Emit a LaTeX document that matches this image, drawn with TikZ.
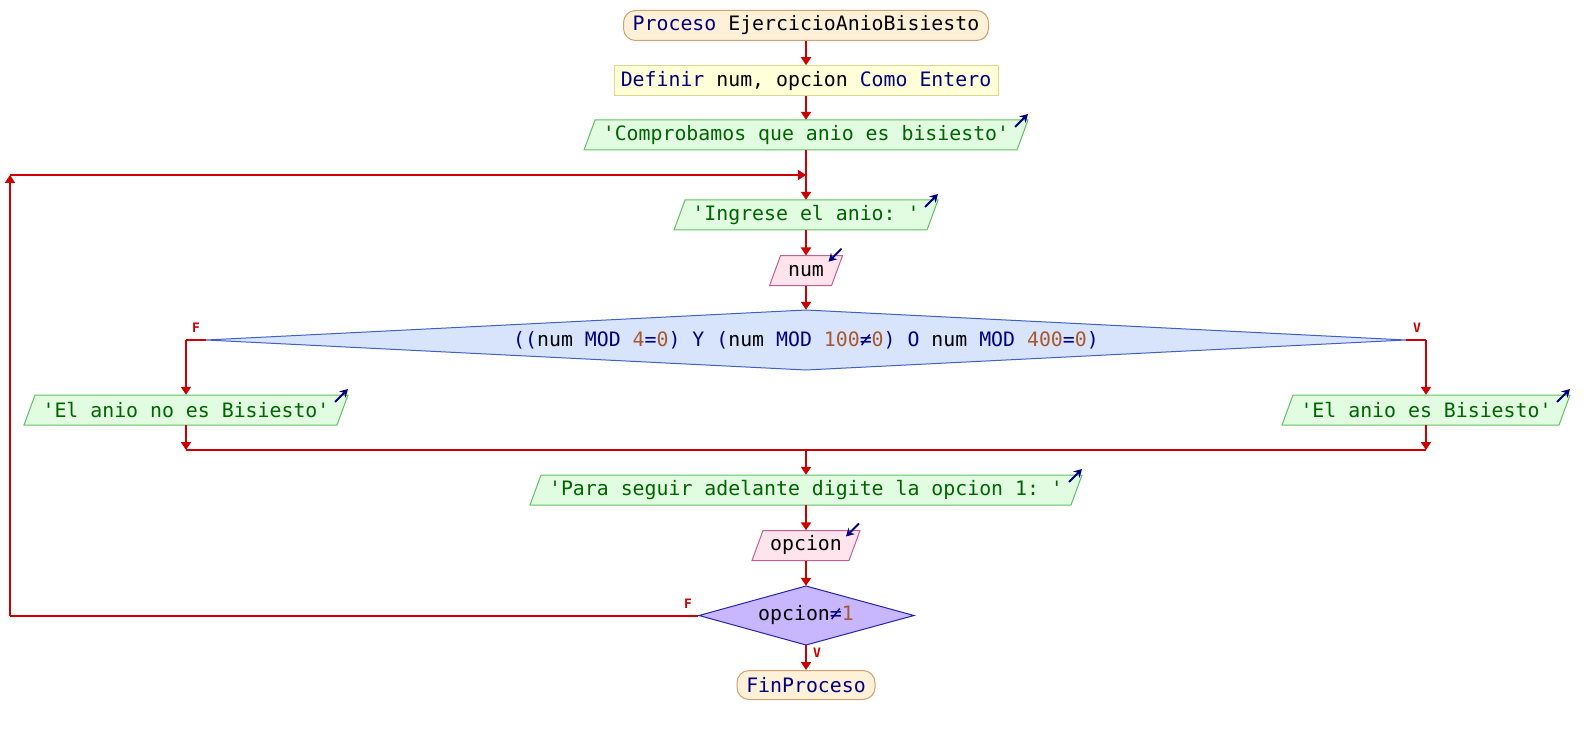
\documentclass[tikz,border=0pt]{standalone}
\usepackage{fontspec}
\newfontfamily\monof[Ligatures=TeXOff]{DejaVu Sans Mono}
\usetikzlibrary{arrows.meta}
\definecolor{kw}{HTML}{000080}
\definecolor{st}{HTML}{006400}
\definecolor{nm}{HTML}{A8582C}
\definecolor{lnred}{HTML}{CC0000}
\definecolor{termfill}{HTML}{FFF0D8}
\definecolor{termdraw}{HTML}{D0A070}
\definecolor{deffill}{HTML}{FFFFD8}
\definecolor{defdraw}{HTML}{D8D890}
\definecolor{outfill}{HTML}{E2FCE2}
\definecolor{outdraw}{HTML}{60C060}
\definecolor{infill}{HTML}{FFE4EE}
\definecolor{indraw}{HTML}{C06090}
\definecolor{dafill}{HTML}{D8E4FC}
\definecolor{dadraw}{HTML}{4060C8}
\definecolor{dbfill}{HTML}{C8B6FF}
\definecolor{dbdraw}{HTML}{2424B0}
\definecolor{iconcol}{HTML}{000080}
\newcommand\kwc[1]{\textcolor{kw}{#1}}
\newcommand\strc[1]{\textcolor{st}{#1}}
\newcommand\numc[1]{\textcolor{nm}{#1}}
% parallelogram shapes: x, y, half width
\newcommand\outshape[3]{%
  \filldraw[outsh] (#1-#3,#2+15) -- (#1-#3+11,#2-15) -- (#1+#3,#2-15) -- (#1+#3-11,#2+15) -- cycle;
  \draw[iconarrow] (#1+#3-13,#2-8) -- (#1+#3,#2-21);}
\newcommand\inshape[3]{%
  \filldraw[insh] (#1-#3,#2+15) -- (#1-#3+11,#2-15) -- (#1+#3,#2-15) -- (#1+#3-11,#2+15) -- cycle;
  \draw[iconarrow] (#1+#3-1,#2-22) -- (#1+#3-14,#2-9);}
\begin{document}
\begin{tikzpicture}[x=1pt,y=-1pt,
  every node/.style={font=\monof\fontsize{19.85}{24}\selectfont\frenchspacing, inner sep=0pt},
  flow/.style={draw=lnred, line width=2pt, -{Triangle[length=8pt,width=10pt]}},
  wire/.style={draw=lnred, line width=2pt},
  termbox/.style={draw=termdraw, fill=termfill, line width=1pt, rounded corners=12pt, minimum height=30},
  defbox/.style={draw=defdraw, fill=deffill, line width=1pt, minimum height=30},
  outsh/.style={draw=outdraw, fill=outfill, line width=1pt},
  insh/.style={draw=indraw, fill=infill, line width=1pt},
  iconarrow/.style={draw=iconcol, line width=2pt, -{Stealth[length=8pt,width=9pt]}},
  anch/.style={minimum height=30},
  lbl/.style={font=\monof\bfseries\fontsize{13}{14}\selectfont, text=lnred}
]
\useasboundingbox (0,0) rectangle (1594,735);

% terminals and definition
\node[termbox, minimum width=365] (t1) at (806,25.5) {\kwc{Proceso} EjercicioAnioBisiesto};
\node[defbox, minimum width=384] (d0) at (806,80.7) {\kwc{Definir} num, opcion \kwc{Como Entero}};

% shapes
\outshape{806}{135}{222}
\outshape{806}{215}{132}
\inshape{806}{270.7}{36.5}
\filldraw[draw=dadraw, fill=dafill, line width=1pt] (206,340) -- (806,310) -- (1406,340) -- (806,370) -- cycle;
\outshape{186}{410}{162}
\outshape{1426}{410}{144}
\outshape{806}{490}{276}
\inshape{806}{545.5}{54}
\filldraw[draw=dbdraw, fill=dbfill, line width=1pt] (699,615.5) -- (806,586) -- (914,615.5) -- (806,645) -- cycle;

% texts
\node[anch, minimum width=433] (o1) at (806,135) {\strc{'Comprobamos que anio es bisiesto'}};
\node[anch, minimum width=253] (o2) at (806,215) {\strc{'Ingrese el anio: '}};
\node[anch, minimum width=62] (i1) at (806,270.7) {num};
\node[minimum width=1200, minimum height=60] (c1) at (806,340) {\kwc{((}num \kwc{MOD} \numc{4}\kwc{=}\numc{0}\kwc{)} \kwc{Y} \kwc{(}num \kwc{MOD} \numc{100}\kwc{≠}\numc{0}\kwc{)} \kwc{O} num \kwc{MOD} \numc{400}\kwc{=}\numc{0}\kwc{)}};
\node[anch, minimum width=313] (o3) at (186,410) {\strc{'El anio no es Bisiesto'}};
\node[anch, minimum width=277] (o4) at (1426,410) {\strc{'El anio es Bisiesto'}};
\node[anch, minimum width=541] (o5) at (806,490) {\strc{'Para seguir adelante digite la opcion 1: '}};
\node[anch, minimum width=97] (i2) at (806,545.5) {opcion};
\node[minimum width=215, minimum height=59] (c2) at (806,615.5) {opcion\kwc{≠}\numc{1}};
\node[termbox, minimum width=138, minimum height=29] (t2) at (806,685) {\kwc{FinProceso}};

% labels
\node[lbl] (lf1) at (196,328) {F};
\node[lbl] (lv1) at (1417,328) {V};
\node[lbl] (lf2) at (688,604) {F};
\node[lbl] (lv2) at (817,653) {V};

% helper coordinates
\coordinate (j1) at (806,175);
\coordinate (bl) at (186,340);
\coordinate (br) at (1426,340);
\coordinate (ml) at (186,450);
\coordinate (mr) at (1426,450);
\coordinate (mc) at (806,450);
\coordinate (lb) at (10,615.5);
\coordinate (lt) at (10,175);

% connectors
\draw[flow] (t1.south) -- (d0.north);
\draw[flow] (d0.south) -- (o1.north);
\draw[wire] (o1.south) -- (j1);
\draw[flow] (j1) -- (o2.north);
\draw[flow] (o2.south) -- (i1.north);
\draw[flow] (i1.south) -- (c1.north);
\draw[wire] (c1.west) -- (bl);
\draw[flow] (bl) -- (o3.north);
\draw[wire] (c1.east) -- (br);
\draw[flow] (br) -- (o4.north);
\draw[flow] (o3.south) -- (ml);
\draw[flow] (o4.south) -- (mr);
\draw[wire] (ml) -- (mr);
\draw[flow] (mc) -- (o5.north);
\draw[flow] (o5.south) -- (i2.north);
\draw[flow] (i2.south) -- (c2.north);
\draw[flow] (c2.south) -- (t2.north);
\draw[wire] (c2.west) -- (lb);
\draw[flow] (lb) -- (lt);
\draw[flow] (lt) -- (j1);
\end{tikzpicture}
\end{document}
